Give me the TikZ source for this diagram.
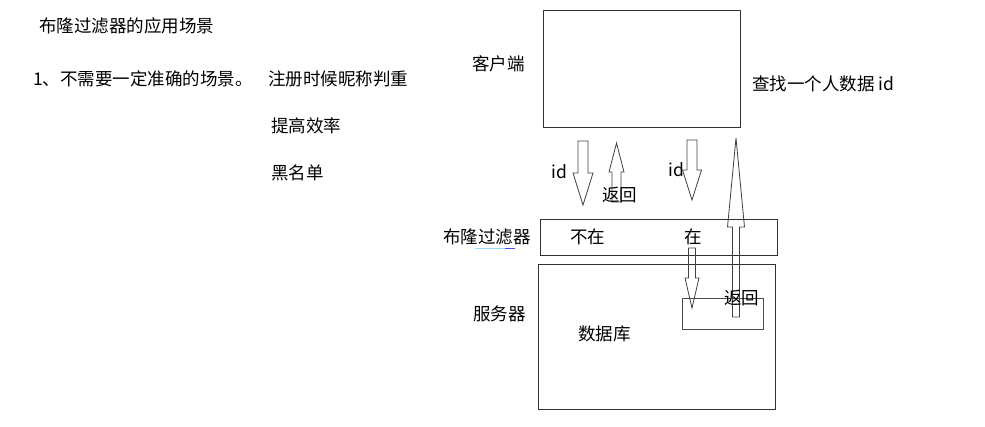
\documentclass[tikz,border=0pt]{standalone}
\usepackage{fontspec}
\setmainfont{Noto Sans CJK SC}
\usepackage{tikz}
\usetikzlibrary{positioning}
\tikzset{
  bfbox/.style={draw=black!80, line width=0.9pt, inner sep=0pt, anchor=north west},
  bftext/.style={font=\fontsize{17.5}{20}\selectfont, inner sep=0pt, anchor=west},
  bfarrow/.style={draw=black!75, line width=0.8pt},
}
% block arrow: centre x, shaft half width, head half width, tail y, head base y, tip y
\newcommand{\bfBlockArrow}[6]{%
  \draw[bfarrow] (#1-#2,#4) -- (#1-#2,#5) -- (#1-#3,#5) -- (#1,#6)
    -- (#1+#3,#5) -- (#1+#2,#5) -- (#1+#2,#4) -- cycle;}

\begin{document}
\begin{tikzpicture}[x=1pt, y=-1pt]
  \useasboundingbox (0,0) rectangle (985,426);

  % notes on the left
  \node[bftext] (title) at (39,26) {布隆过滤器的应用场景};
  \node[bftext] (case) at (33,79) {1、不需要一定准确的场景。};
  \node[bftext] (nick) at (268,79) {注册时候昵称判重};
  \node[bftext] (speed) at (271,126) {提高效率};
  \node[bftext] (black) at (271,173) {黑名单};

  % boxes
  \node[bfbox, minimum width=197pt, minimum height=117pt] (client) at (543,10) {};
  \node[bfbox, minimum width=237pt, minimum height=36pt] (bloom) at (540,219) {};
  \node[bfbox, minimum width=237pt, minimum height=145pt] (server) at (538,264) {};
  \node[bfbox, draw=black!70, minimum width=81pt, minimum height=31pt] (db) at (682,298) {};

  % labels
  \node[bftext] (clientlab) at (472,64) {客户端};
  \node[bftext] (query) at (752,84) {查找一个人数据 id};
  \node[bftext] (bloomlab) at (443,237) {布隆过滤器};
  \draw[cyan!40, line width=0.8pt] (475,248) -- (505,248);
  \draw[blue!70, line width=0.8pt] (505,248) -- (515,248);
  \node[bftext] (miss) at (570,237) {不在};
  \node[bftext] (hit) at (684,237) {在};
  \node[bftext] (serverlab) at (473,314) {服务器};
  \node[bftext] (dblab) at (578,334) {数据库};

  % arrows
  \bfBlockArrow{583}{5}{10}{141}{173}{205}
  \bfBlockArrow{616.5}{4.5}{7.5}{202}{172}{143}
  \bfBlockArrow{692}{5}{9.5}{140}{170}{200}
  \bfBlockArrow{736}{3.5}{8.5}{317}{227}{138}
  \bfBlockArrow{692}{3.5}{7}{248}{278}{308}

  \node[bftext] (id1) at (551,172) {id};
  \node[bftext] (id2) at (668,170) {id};
  \node[bftext] (back1) at (602,195) {返回};
  \node[bftext] (back2) at (724,298) {返回};
\end{tikzpicture}
\end{document}
